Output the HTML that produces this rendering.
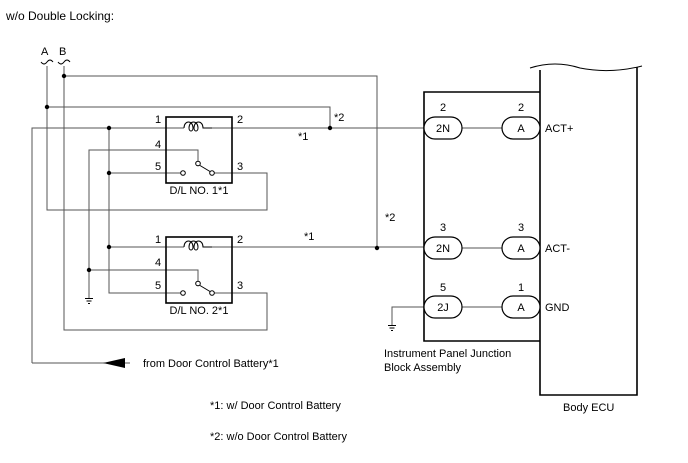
<!DOCTYPE html>
<html><head><style>
body{margin:0;background:#fff;width:688px;height:463px;overflow:hidden}
svg{display:block}
text{font-family:"Liberation Sans",sans-serif;font-size:11px;fill:#000}
</style></head><body>
<svg width="688" height="463" viewBox="0 0 688 463">
<text x="6" y="20" style="font-size:12px">w/o Double Locking:</text>
<g fill="none" stroke="#555" stroke-width="1">
<path d="M47 66V210H267V173H214"/>
<path d="M64 66V330H267V293H214"/>
<path d="M64 76H377V248"/>
<path d="M47 107H330V128"/>
<path d="M32 363V128H184M212 128H424"/>
<path d="M109 128V293H181"/>
<path d="M109 173H181"/>
<path d="M109 247H184M212 247H424"/>
<path d="M89 298V150H198V161"/>
<path d="M89 270H198V281"/>
<path d="M32 363H130"/>
<path d="M462 128H502M462 248H502M462 307H502"/>
<path d="M424 307H392V325"/>
</g>
<g fill="none" stroke="#000" stroke-width="1">
<path d="M85 298.5H93M86.5 301H91.5M88 303.5H90M388 325.5H396M389.5 328H394.5M391 330.5H393"/>
<path d="M200 165.5L210 171.5M200 285.5L210 291.5"/>
<circle cx="198" cy="163.5" r="2.3" fill="#fff"/><circle cx="183" cy="173" r="2.3" fill="#fff"/><circle cx="212" cy="173" r="2.3" fill="#fff"/>
<circle cx="198" cy="283.5" r="2.3" fill="#fff"/><circle cx="183" cy="293" r="2.3" fill="#fff"/><circle cx="212" cy="293" r="2.3" fill="#fff"/>
<path d="M184 128c0-8 9-8 9 0c0 4-4 4-4 0c0-8 9-8 9 0c0 4-4 4-4 0c0-8 9-8 9 0H212M184 247c0-8 9-8 9 0c0 4-4 4-4 0c0-8 9-8 9 0c0 4-4 4-4 0c0-8 9-8 9 0H212"/>
<path d="M41 62q3 4 6 0q3-4 6 0M58 62q3 4 6 0q3-4 6 0"/>
</g>
<g fill="#000">
<circle cx="47" cy="107" r="2.2"/><circle cx="64" cy="76" r="2.2"/><circle cx="330" cy="128" r="2.2"/>
<circle cx="109" cy="128" r="2.2"/><circle cx="109" cy="173" r="2.2"/><circle cx="109" cy="247" r="2.2"/>
<circle cx="89" cy="270" r="2.2"/><circle cx="377" cy="248" r="2.2"/>
<path d="M103 363L125 358V368Z"/>
</g>
<g fill="none" stroke="#000" stroke-width="1.6">
<rect x="166" y="117" width="66" height="66"/>
<rect x="166" y="237" width="66" height="66"/>
<path d="M540 92H424V341H540"/>
<path d="M540 70V395H637V67"/>
<path d="M530 68q25 -8 50 0q30 6 62 -2" stroke-width="1"/>
</g>
<g fill="#fff" stroke="#000" stroke-width="1.2">
<rect x="424" y="117" width="38" height="22" rx="11"/><rect x="502" y="117" width="38" height="22" rx="11"/>
<rect x="424" y="237" width="38" height="22" rx="11"/><rect x="502" y="237" width="38" height="22" rx="11"/>
<rect x="424" y="296" width="38" height="22" rx="11"/><rect x="502" y="296" width="38" height="22" rx="11"/>
</g>
<g text-anchor="middle">
<text x="443" y="132">2N</text><text x="521" y="132">A</text>
<text x="443" y="252">2N</text><text x="521" y="252">A</text>
<text x="443" y="311">2J</text><text x="521" y="311">A</text>
<text x="443" y="111">2</text><text x="521" y="111">2</text>
<text x="443" y="231">3</text><text x="521" y="231">3</text>
<text x="443" y="291">5</text><text x="521" y="291">1</text>
<text x="199" y="194">D/L NO. 1*1</text>
<text x="199" y="314">D/L NO. 2*1</text>
</g>
<text x="41" y="55">A</text><text x="59" y="55">B</text>
<text x="155" y="123">1</text><text x="237" y="123">2</text>
<text x="155" y="148">4</text><text x="155" y="170">5</text><text x="237" y="170">3</text>
<text x="155" y="243">1</text><text x="237" y="243">2</text>
<text x="155" y="266">4</text><text x="155" y="289">5</text><text x="237" y="289">3</text>
<text x="334" y="121">*2</text><text x="298" y="140">*1</text>
<text x="304" y="240">*1</text><text x="385" y="221">*2</text>
<text x="545" y="132">ACT+</text><text x="545" y="252">ACT-</text><text x="545" y="311">GND</text>
<text x="384" y="357">Instrument Panel Junction</text>
<text x="384" y="371">Block Assembly</text>
<text x="143" y="367">from Door Control Battery*1</text>
<text x="563" y="411">Body ECU</text>
<text x="210" y="409">*1: w/ Door Control Battery</text>
<text x="210" y="440">*2: w/o Door Control Battery</text>
</svg>
</body></html>
